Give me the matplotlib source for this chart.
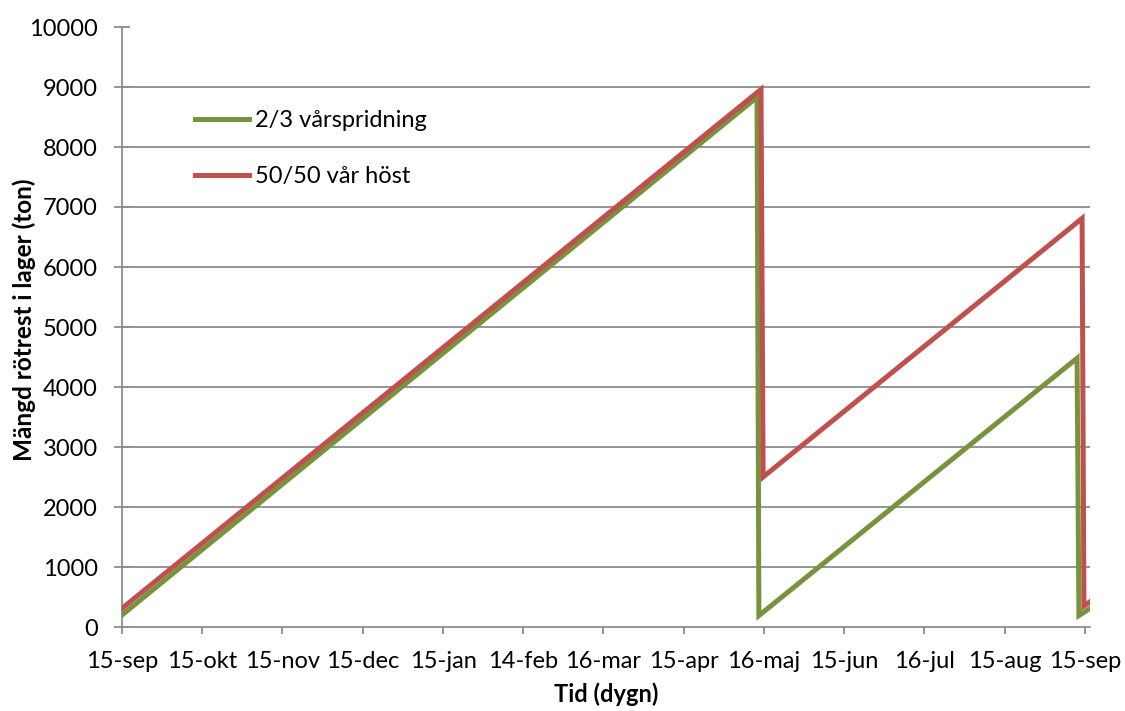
import numpy as np
import matplotlib.pyplot as plt

# dygn efter 15-sep och mängd (ton) vid brytpunkterna
dag_gron = [0, 240.7, 241.4, 362.0, 362.7, 366.9]
ton_gron = [200, 8830, 190, 4480, 190, 310]
dag_rod = [0, 242.2, 243.0, 363.9, 364.6, 366.9]
ton_rod = [310, 8960, 2500, 6810, 350, 420]

tick_labels = ["15-sep", "15-okt", "15-nov", "15-dec", "15-jan", "14-feb", "16-mar",
               "15-apr", "16-maj", "15-jun", "16-jul", "15-aug", "15-sep"]
y_ticks = list(range(0, 10001, 1000))

plt.rcParams['font.family'] = ['Lato', 'DejaVu Sans']

fig = plt.figure(figsize=(11.25, 7.11), dpi=100)
ax = fig.add_axes([122/1125, 1 - 627/711, (1090 - 122)/1125, 600/711])

grid_col = "#8c8c8c"
for y in y_ticks[1:-1]:
    ax.axhline(y, color=grid_col, lw=1.3, zorder=1)

ax.plot(dag_gron, ton_gron, color="#77933c", lw=3.6, label="2/3 vårspridning",
        solid_joinstyle="miter", zorder=3)
ax.plot(dag_rod, ton_rod, color="#c0504d", lw=3.6, label="50/50 vår höst",
        solid_joinstyle="miter", zorder=4)

ax.set_xlim(0, 366.9)
ax.set_ylim(0, 10000)
ax.set_xticks(np.arange(13) * 365 / 12)
ax.set_xticklabels(tick_labels)
ax.set_yticks(y_ticks)

for s in ["top", "right"]:
    ax.spines[s].set_visible(False)
for s in ["left", "bottom"]:
    ax.spines[s].set_color(grid_col)
    ax.spines[s].set_linewidth(1.3)

ax.tick_params(axis="y", direction="inout", length=11, width=1.3, color=grid_col,
               labelsize=17, pad=12)
ax.tick_params(axis="x", direction="out", length=5, width=1.3, color=grid_col,
               labelsize=17, pad=12)

ax.set_xlabel("Tid (dygn)", fontsize=17, fontweight="bold", labelpad=8)
ax.set_ylabel("Mängd rötrest i lager (ton)", fontsize=17.5, fontweight="bold")
ax.yaxis.set_label_coords(-0.089, 0.512)

leg = ax.legend(loc="upper left", bbox_to_anchor=(0.075, 0.862), frameon=False,
                fontsize=17, handlelength=2.3, handletextpad=0.25, labelspacing=1.5,
                borderaxespad=0, borderpad=0)

fig.savefig("out.png", dpi=100)
